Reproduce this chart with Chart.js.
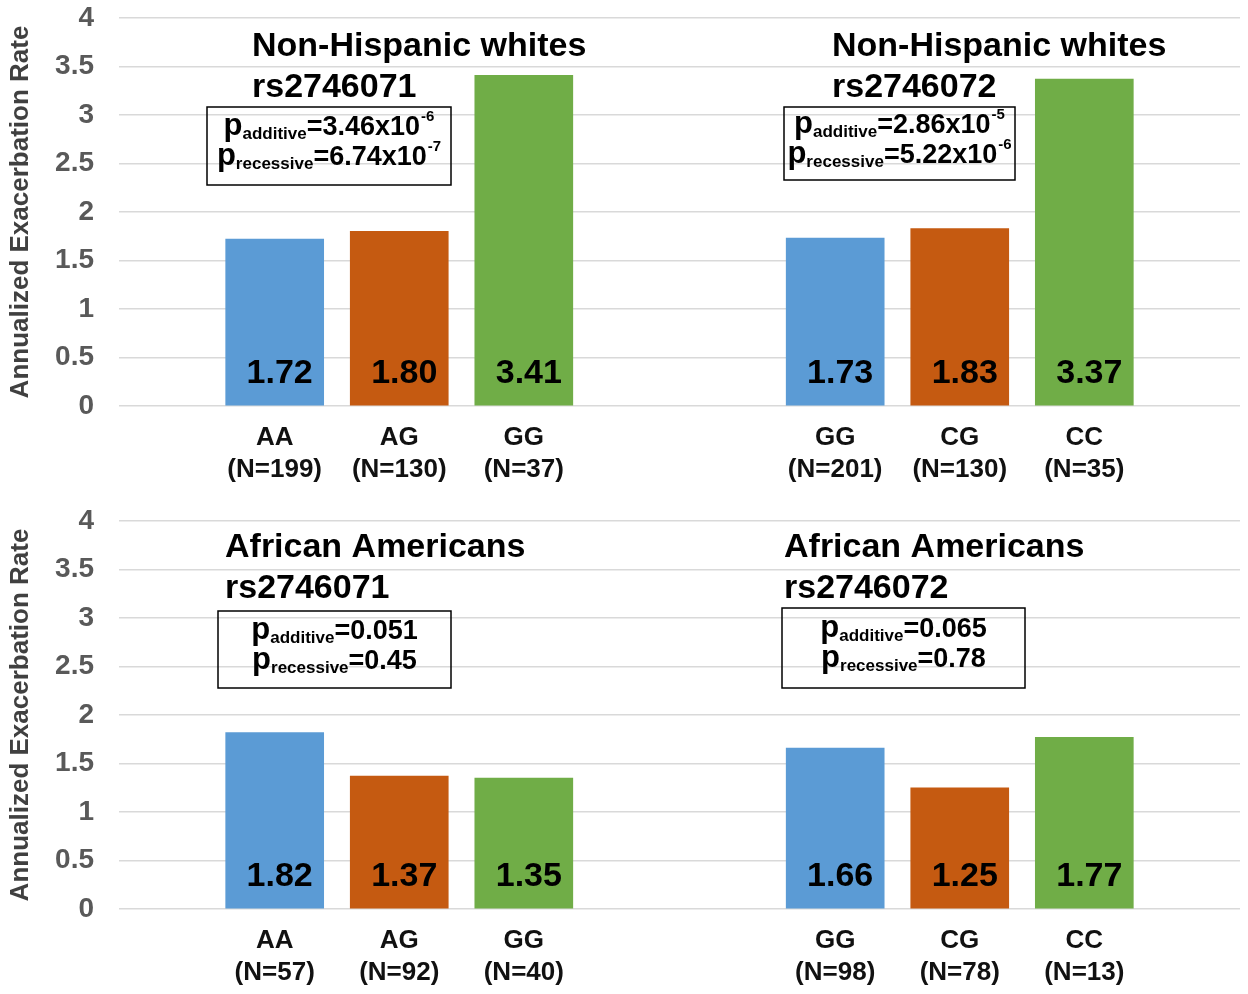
<!DOCTYPE html>
<html>
<head>
<meta charset="utf-8">
<script src="https://cdn.jsdelivr.net/npm/chart.js@4/dist/chart.umd.min.js"></script>
<style>
  html, body { margin: 0; padding: 0; background: #fff; }
  .panel { position: relative; width: 1248px; height: 497px; }
</style>
</head>
<body>
<div class="panel"><canvas id="topChart"></canvas></div>
<div class="panel"><canvas id="bottomChart"></canvas></div>
<script>
// genotype groups: rs2746071 (left) and rs2746072 (right)
const genotypes = ['AA', 'AG', 'GG', 'GG', 'CG', 'CC'];
const whitesN = [199, 130, 37, 201, 130, 35];
const whitesRates = [1.72, 1.80, 3.41, 1.73, 1.83, 3.37];
const africanN = [57, 92, 40, 98, 78, 13];
const africanRates = [1.82, 1.37, 1.35, 1.66, 1.25, 1.77];
const yTicks = [0, 0.5, 1, 1.5, 2, 2.5, 3, 3.5, 4];

const whitesTitles = [['Non-Hispanic whites', 'rs2746071'], ['Non-Hispanic whites', 'rs2746072']];
const africanTitles = [['African Americans', 'rs2746071'], ['African Americans', 'rs2746072']];
const whitesP = [['3.46x10', '-6', '6.74x10', '-7'], ['2.86x10', '-5', '5.22x10', '-6']];
const africanP = [['0.051', '', '0.45', ''], ['0.065', '', '0.78', '']];

const barColors = ['#5b9bd5', '#c55a11', '#70ad47', '#5b9bd5', '#c55a11', '#70ad47'];
const FONT = '"Liberation Sans", Arial, sans-serif';

// bars sit on half-width slots so the two groups get the gap between them
const slotCount = 18;
const slots = [2, 4, 6, 11, 13, 15];

function buildLabels(ns) {
  const out = new Array(slotCount).fill('');
  slots.forEach((s, i) => { out[s] = [genotypes[i], '(N=' + ns[i] + ')']; });
  return out;
}
function buildValues(vals) {
  const out = new Array(slotCount).fill(null);
  slots.forEach((s, i) => { out[s] = vals[i]; });
  return out;
}
function buildColors() {
  const out = new Array(slotCount).fill('rgba(0,0,0,0)');
  slots.forEach((s, i) => { out[s] = barColors[i]; });
  return out;
}

function drawPBox(ctx, box, pv) {
  const [bx, by, bw, bh] = box;
  ctx.save();
  ctx.strokeStyle = '#000';
  ctx.lineWidth = 1.5;
  ctx.strokeRect(bx, by, bw, bh);
  const rows = [['additive', pv[0], pv[1]], ['recessive', pv[2], pv[3]]];
  const cy = by + bh / 2;
  rows.forEach((r, k) => {
    const base = cy + (k === 0 ? -11 : 19);
    const pf = 'bold 31px ' + FONT, big = 'bold 27px ' + FONT, sub = 'bold 17px ' + FONT, sup = 'bold 15px ' + FONT;
    ctx.font = pf; const w1 = ctx.measureText('p').width;
    ctx.font = sub; const w2 = ctx.measureText(r[0]).width;
    ctx.font = big; const w3 = ctx.measureText('=' + r[1]).width;
    ctx.font = sup; const w4 = r[2] ? ctx.measureText(r[2]).width + 1 : 0;
    let x = bx + (bw - (w1 + w2 + w3 + w4)) / 2;
    ctx.fillStyle = '#000';
    ctx.textBaseline = 'alphabetic';
    ctx.textAlign = 'left';
    ctx.font = pf; ctx.fillText('p', x, base); x += w1;
    ctx.font = sub; ctx.fillText(r[0], x, base + 4); x += w2;
    ctx.font = big; ctx.fillText('=' + r[1], x, base); x += w3;
    if (r[2]) { ctx.font = sup; ctx.fillText(r[2], x + 1, base - 14); }
  });
  ctx.restore();
}

function annotations(titles, titlePos, pvals, boxes) {
  return {
    id: 'annotations',
    afterDatasetsDraw(chart) {
      const ctx = chart.ctx;
      const meta = chart.getDatasetMeta(0);
      const yZero = chart.scales.y.getPixelForValue(0);
      ctx.save();
      ctx.fillStyle = '#000';
      ctx.font = 'bold 34px ' + FONT;
      ctx.textAlign = 'center';
      ctx.textBaseline = 'middle';
      slots.forEach((s) => {
        const bar = meta.data[s];
        const v = chart.data.datasets[0].data[s];
        ctx.fillText(v.toFixed(2), bar.x + 5, yZero - 32);
      });
      ctx.textAlign = 'left';
      ctx.textBaseline = 'alphabetic';
      ctx.font = 'bold 34px ' + FONT;
      titles.forEach((t, i) => {
        const [tx, ty] = titlePos[i];
        ctx.fillText(t[0], tx, ty);
        ctx.fillText(t[1], tx, ty + 41);
      });
      ctx.restore();
      pvals.forEach((pv, i) => drawPBox(ctx, boxes[i], pv));
    }
  };
}

function makeChart(id, rates, ns, titles, titlePos, pvals, boxes, areaTop, axisHeight) {
  return new Chart(document.getElementById(id), {
    type: 'bar',
    data: {
      labels: buildLabels(ns),
      datasets: [{
        data: buildValues(rates),
        backgroundColor: buildColors(),
        barThickness: 98,
        skipNull: true
      }]
    },
    options: {
      responsive: true,
      maintainAspectRatio: false,
      animation: false,
      layout: { padding: { top: areaTop, right: 8, bottom: 0, left: 0 } },
      plugins: { legend: { display: false }, tooltip: { enabled: false } },
      scales: {
        x: {
          afterFit(scale) {
            scale.height = axisHeight;
            scale.paddingLeft = 0; scale.paddingRight = 0;
            scale.paddingTop = 0; scale.paddingBottom = 0;
          },
          grid: { display: false, drawTicks: false },
          border: { display: false },
          ticks: {
            autoSkip: false, maxRotation: 0, minRotation: 0, padding: 16,
            color: '#111', font: { family: FONT, size: 26, weight: 'bold', lineHeight: 1.23 }
          }
        },
        y: {
          min: 0, max: 4,
          afterBuildTicks(scale) { scale.ticks = yTicks.map(v => ({ value: v })); },
          afterFit(scale) {
            scale.width = 119;
            scale.paddingTop = 0; scale.paddingBottom = 0;
          },
          grid: { color: '#d9d9d9', lineWidth: 1.5, drawTicks: false },
          border: { display: false },
          ticks: {
            padding: 25, color: '#595959',
            font: { family: FONT, size: 28, weight: 'bold' },
            callback: v => String(v)
          },
          title: {
            display: true, text: 'Annualized Exacerbation Rate', color: '#404040',
            font: { family: FONT, size: 26, weight: 'bold' }, padding: { top: 5, bottom: 0 }
          }
        }
      }
    },
    plugins: [annotations(titles, titlePos, pvals, boxes)]
  });
}

makeChart('topChart', whitesRates, whitesN, whitesTitles,
  [[252, 56], [832, 56]], whitesP,
  [[207, 107, 244, 78], [784, 107, 231, 73]], 18, 91);
makeChart('bottomChart', africanRates, africanN, africanTitles,
  [[225, 60], [784, 60]], africanP,
  [[218, 114, 233, 77], [782, 111, 243, 80]], 24, 85);
</script>
</body>
</html>
